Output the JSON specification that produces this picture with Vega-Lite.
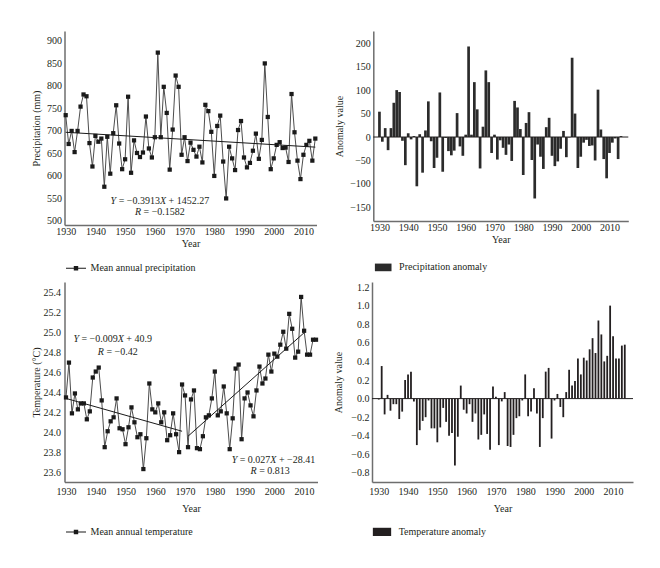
{
  "$schema": "https://vega.github.io/schema/vega-lite/v6.json",
  "padding": {"left": 31.5, "top": 31, "right": 5, "bottom": 5},
  "background": "white",
  "config": {
    "font": "Liberation Serif",
    "view": {"stroke": null},
    "axis": {"domainColor": "#6e6e6e", "domainWidth": 1.5, "ticks": false, "grid": false, "labelFontSize": 10, "labelColor": "#231f20", "titleFontSize": 10, "titleFontWeight": "normal", "titleColor": "#231f20", "labelFlush": false, "labelOverlap": false, "labelBound": false, "tickCount": 30},
    "axisX": {"labelPadding": 1, "titlePadding": 2},
    "axisY": {"labelPadding": 3},
    "legend": {"labelFontSize": 10, "labelColor": "#231f20", "labelFont": "Liberation Serif"},
    "text": {"fontSize": 10, "color": "#231f20", "align": "left", "baseline": "middle"}
  },
  "datasets": {
    "precip": [
      {"year":1930,"precipitation":735,"anomaly":54},{"year":1931,"precipitation":671,"anomaly":-10},{"year":1932,"precipitation":700,"anomaly":19},{"year":1933,"precipitation":653,"anomaly":-28},{"year":1934,"precipitation":700,"anomaly":19},{"year":1935,"precipitation":754,"anomaly":73},{"year":1936,"precipitation":781,"anomaly":100},{"year":1937,"precipitation":777,"anomaly":96},{"year":1938,"precipitation":673,"anomaly":-8},{"year":1939,"precipitation":621,"anomaly":-60},
      {"year":1940,"precipitation":689,"anomaly":8},{"year":1941,"precipitation":676,"anomaly":-5},{"year":1942,"precipitation":683,"anomaly":2},{"year":1943,"precipitation":576,"anomaly":-105},{"year":1944,"precipitation":687,"anomaly":6},{"year":1945,"precipitation":605,"anomaly":-76},{"year":1946,"precipitation":695,"anomaly":14},{"year":1947,"precipitation":757,"anomaly":76},{"year":1948,"precipitation":672,"anomaly":-9},{"year":1949,"precipitation":615,"anomaly":-66},
      {"year":1950,"precipitation":637,"anomaly":-44},{"year":1951,"precipitation":776,"anomaly":95},{"year":1952,"precipitation":607,"anomaly":-74},{"year":1953,"precipitation":679,"anomaly":-2},{"year":1954,"precipitation":651,"anomaly":-30},{"year":1955,"precipitation":642,"anomaly":-39},{"year":1956,"precipitation":652,"anomaly":-29},{"year":1957,"precipitation":732,"anomaly":51},{"year":1958,"precipitation":661,"anomaly":-20},{"year":1959,"precipitation":641,"anomaly":-40},
      {"year":1960,"precipitation":686,"anomaly":5},{"year":1961,"precipitation":874,"anomaly":193},{"year":1962,"precipitation":686,"anomaly":5},{"year":1963,"precipitation":798,"anomaly":117},{"year":1964,"precipitation":740,"anomaly":59},{"year":1965,"precipitation":614,"anomaly":-67},{"year":1966,"precipitation":703,"anomaly":22},{"year":1967,"precipitation":823,"anomaly":142},{"year":1968,"precipitation":798,"anomaly":117},{"year":1969,"precipitation":647,"anomaly":-34},
      {"year":1970,"precipitation":686,"anomaly":5},{"year":1971,"precipitation":633,"anomaly":-48},{"year":1972,"precipitation":674,"anomaly":-7},{"year":1973,"precipitation":658,"anomaly":-23},{"year":1974,"precipitation":643,"anomaly":-38},{"year":1975,"precipitation":665,"anomaly":-16},{"year":1976,"precipitation":630,"anomaly":-51},{"year":1977,"precipitation":758,"anomaly":77},{"year":1978,"precipitation":744,"anomaly":63},{"year":1979,"precipitation":698,"anomaly":17},
      {"year":1980,"precipitation":600,"anomaly":-81},{"year":1981,"precipitation":711,"anomaly":30},{"year":1982,"precipitation":734,"anomaly":53},{"year":1983,"precipitation":632,"anomaly":-49},{"year":1984,"precipitation":550,"anomaly":-131},{"year":1985,"precipitation":665,"anomaly":-16},{"year":1986,"precipitation":639,"anomaly":-42},{"year":1987,"precipitation":613,"anomaly":-68},{"year":1988,"precipitation":702,"anomaly":21},{"year":1989,"precipitation":722,"anomaly":41},
      {"year":1990,"precipitation":641,"anomaly":-40},{"year":1991,"precipitation":619,"anomaly":-62},{"year":1992,"precipitation":629,"anomaly":-52},{"year":1993,"precipitation":656,"anomaly":-25},{"year":1994,"precipitation":694,"anomaly":13},{"year":1995,"precipitation":638,"anomaly":-43},{"year":1996,"precipitation":680,"anomaly":-1},{"year":1997,"precipitation":850,"anomaly":169},{"year":1998,"precipitation":731,"anomaly":50},{"year":1999,"precipitation":615,"anomaly":-66},
      {"year":2000,"precipitation":639,"anomaly":-42},{"year":2001,"precipitation":669,"anomaly":-12},{"year":2002,"precipitation":675,"anomaly":-6},{"year":2003,"precipitation":662,"anomaly":-19},{"year":2004,"precipitation":663,"anomaly":-18},{"year":2005,"precipitation":631,"anomaly":-50},{"year":2006,"precipitation":782,"anomaly":101},{"year":2007,"precipitation":697,"anomaly":16},{"year":2008,"precipitation":634,"anomaly":-47},{"year":2009,"precipitation":593,"anomaly":-88},
      {"year":2010,"precipitation":647,"anomaly":-34},{"year":2011,"precipitation":669,"anomaly":-12},{"year":2012,"precipitation":678,"anomaly":-3},{"year":2013,"precipitation":634,"anomaly":-47},{"year":2014,"precipitation":683,"anomaly":2}
    ],
    "temp": [
      {"year":1930,"temperature":24.35,"anomaly":-0.01},{"year":1931,"temperature":24.70,"anomaly":0.35},{"year":1932,"temperature":24.19,"anomaly":-0.17},{"year":1933,"temperature":24.39,"anomaly":0.04},{"year":1934,"temperature":24.23,"anomaly":-0.13},{"year":1935,"temperature":24.29,"anomaly":-0.06},{"year":1936,"temperature":24.29,"anomaly":-0.06},{"year":1937,"temperature":24.13,"anomaly":-0.22},{"year":1938,"temperature":24.21,"anomaly":-0.14},{"year":1939,"temperature":24.55,"anomaly":0.20},
      {"year":1940,"temperature":24.61,"anomaly":0.26},{"year":1941,"temperature":24.65,"anomaly":0.29},{"year":1942,"temperature":24.32,"anomaly":-0.03},{"year":1943,"temperature":23.85,"anomaly":-0.50},{"year":1944,"temperature":24.01,"anomaly":-0.34},{"year":1945,"temperature":24.11,"anomaly":-0.24},{"year":1946,"temperature":24.15,"anomaly":-0.20},{"year":1947,"temperature":24.34,"anomaly":-0.02},{"year":1948,"temperature":24.04,"anomaly":-0.32},{"year":1949,"temperature":24.03,"anomaly":-0.32},
      {"year":1950,"temperature":23.88,"anomaly":-0.47},{"year":1951,"temperature":24.05,"anomaly":-0.31},{"year":1952,"temperature":24.25,"anomaly":-0.10},{"year":1953,"temperature":24.10,"anomaly":-0.25},{"year":1954,"temperature":23.95,"anomaly":-0.40},{"year":1955,"temperature":23.98,"anomaly":-0.37},{"year":1956,"temperature":23.63,"anomaly":-0.72},{"year":1957,"temperature":23.94,"anomaly":-0.41},{"year":1958,"temperature":24.49,"anomaly":0.14},{"year":1959,"temperature":24.23,"anomaly":-0.12},
      {"year":1960,"temperature":24.20,"anomaly":-0.16},{"year":1961,"temperature":24.29,"anomaly":-0.06},{"year":1962,"temperature":24.10,"anomaly":-0.25},{"year":1963,"temperature":24.20,"anomaly":-0.16},{"year":1964,"temperature":23.92,"anomaly":-0.44},{"year":1965,"temperature":23.97,"anomaly":-0.39},{"year":1966,"temperature":24.19,"anomaly":-0.17},{"year":1967,"temperature":23.98,"anomaly":-0.38},{"year":1968,"temperature":23.80,"anomaly":-0.55},{"year":1969,"temperature":24.48,"anomaly":0.13},
      {"year":1970,"temperature":24.37,"anomaly":0.02},{"year":1971,"temperature":23.85,"anomaly":-0.50},{"year":1972,"temperature":24.33,"anomaly":-0.03},{"year":1973,"temperature":24.42,"anomaly":0.07},{"year":1974,"temperature":23.84,"anomaly":-0.51},{"year":1975,"temperature":23.83,"anomaly":-0.52},{"year":1976,"temperature":23.96,"anomaly":-0.39},{"year":1977,"temperature":24.15,"anomaly":-0.21},{"year":1978,"temperature":24.17,"anomaly":-0.19},{"year":1979,"temperature":24.34,"anomaly":-0.02},
      {"year":1980,"temperature":24.61,"anomaly":0.26},{"year":1981,"temperature":24.17,"anomaly":-0.19},{"year":1982,"temperature":24.21,"anomaly":-0.14},{"year":1983,"temperature":24.46,"anomaly":0.11},{"year":1984,"temperature":24.19,"anomaly":-0.16},{"year":1985,"temperature":23.83,"anomaly":-0.52},{"year":1986,"temperature":24.14,"anomaly":-0.21},{"year":1987,"temperature":24.64,"anomaly":0.29},{"year":1988,"temperature":24.68,"anomaly":0.33},{"year":1989,"temperature":23.93,"anomaly":-0.43},
      {"year":1990,"temperature":24.34,"anomaly":-0.02},{"year":1991,"temperature":24.40,"anomaly":0.05},{"year":1992,"temperature":24.27,"anomaly":-0.09},{"year":1993,"temperature":24.16,"anomaly":-0.20},{"year":1994,"temperature":24.42,"anomaly":0.07},{"year":1995,"temperature":24.66,"anomaly":0.31},{"year":1996,"temperature":24.49,"anomaly":0.14},{"year":1997,"temperature":24.54,"anomaly":0.19},{"year":1998,"temperature":24.78,"anomaly":0.43},{"year":1999,"temperature":24.61,"anomaly":0.26},
      {"year":2000,"temperature":24.79,"anomaly":0.44},{"year":2001,"temperature":24.76,"anomaly":0.41},{"year":2002,"temperature":24.88,"anomaly":0.53},{"year":2003,"temperature":25.01,"anomaly":0.65},{"year":2004,"temperature":24.84,"anomaly":0.49},{"year":2005,"temperature":25.19,"anomaly":0.84},{"year":2006,"temperature":25.04,"anomaly":0.69},{"year":2007,"temperature":24.75,"anomaly":0.40},{"year":2008,"temperature":24.81,"anomaly":0.46},{"year":2009,"temperature":25.36,"anomaly":1.00},
      {"year":2010,"temperature":25.02,"anomaly":0.67},{"year":2011,"temperature":24.78,"anomaly":0.43},{"year":2012,"temperature":24.78,"anomaly":0.43},{"year":2013,"temperature":24.93,"anomaly":0.57},{"year":2014,"temperature":24.93,"anomaly":0.58}
    ],
    "precipTrend": [{"year":1930,"precipitation":697},{"year":2014,"precipitation":664}],
    "tempTrend": [
      {"year":1930,"temperature":24.34,"segment":"1930-1969"},{"year":1969,"temperature":24.01,"segment":"1930-1969"},
      {"year":1971,"temperature":23.96,"segment":"1971-2010"},{"year":2010,"temperature":25.0,"segment":"1971-2010"}
    ]
  },
  "resolve": {"scale": {"color": "independent"}, "legend": {"color": "independent"}},
  "spacing": 8,
  "vconcat": [
    {
      "spacing": 16.8,
      "resolve": {"scale": {"color": "independent"}, "legend": {"color": "independent"}},
      "hconcat": [
        {
          "width": 252, "height": 194,
          "data": {"name": "precip"},
          "layer": [
            {
              "mark": {"type": "line", "color": "#4d4d4d", "strokeWidth": 1},
              "encoding": {
                "x": {"field": "year", "type": "quantitative", "scale": {"domain": [1929.6, 2014.4], "nice": false, "zero": false}, "axis": {"title": "Year", "values": [1930,1940,1950,1960,1970,1980,1990,2000,2010], "format": "d", "labelOverlap": false, "tickCount": 30}},
                "y": {"field": "precipitation", "type": "quantitative", "scale": {"domain": [491, 922], "nice": false, "zero": false}, "axis": {"title": "Precipitation (mm)", "values": [500,550,600,650,700,750,800,850,900], "labelOverlap": false, "tickCount": 30, "minExtent": 21, "maxExtent": 21, "titlePadding": 2}}
              }
            },
            {
              "data": {"name": "precipTrend"},
              "mark": {"type": "line", "color": "#1a1a1a", "strokeWidth": 1},
              "encoding": {
                "x": {"field": "year", "type": "quantitative"},
                "y": {"field": "precipitation", "type": "quantitative"}
              }
            },
            {
              "mark": {"type": "square", "size": 18, "opacity": 1, "filled": true},
              "encoding": {
                "x": {"field": "year", "type": "quantitative"},
                "y": {"field": "precipitation", "type": "quantitative"},
                "color": {"datum": "Mean annual precipitation", "scale": {"range": ["#1a1a1a"]}, "legend": {"title": null, "orient": "none", "legendX": 0.5, "legendY": 226.3, "symbolType": "M-1,-0.05H1V0.05H-1Z M-0.22,-0.22H0.22V0.22H-0.22Z", "symbolSize": 400, "labelOffset": 3.5, "encode": {"symbols": {"update": {"fill": {"value": "#1a1a1a"}, "opacity": {"value": 1}}}}}}
              }
            },
            {"data": {"values": [{}]}, "mark": {"type": "text", "text": "Y", "fontStyle": "italic", "dx": -49.3}, "encoding": {"x": {"datum": 1961.7, "type": "quantitative"}, "y": {"datum": 545, "type": "quantitative"}}},
            {"data": {"values": [{}]}, "mark": {"type": "text", "text": "= −0.3913", "dx": -41.24}, "encoding": {"x": {"datum": 1961.7, "type": "quantitative"}, "y": {"datum": 545, "type": "quantitative"}}},
            {"data": {"values": [{}]}, "mark": {"type": "text", "text": "X", "fontStyle": "italic", "dx": 0.04}, "encoding": {"x": {"datum": 1961.7, "type": "quantitative"}, "y": {"datum": 545, "type": "quantitative"}}},
            {"data": {"values": [{}]}, "mark": {"type": "text", "text": "+ 1452.27", "dx": 8.65}, "encoding": {"x": {"datum": 1961.7, "type": "quantitative"}, "y": {"datum": 545, "type": "quantitative"}}},
            {"data": {"values": [{}]}, "mark": {"type": "text", "text": "R", "fontStyle": "italic", "dx": -24.95}, "encoding": {"x": {"datum": 1961.7, "type": "quantitative"}, "y": {"datum": 519, "type": "quantitative"}}},
            {"data": {"values": [{}]}, "mark": {"type": "text", "text": "= −0.1582", "dx": -16.34}, "encoding": {"x": {"datum": 1961.7, "type": "quantitative"}, "y": {"datum": 519, "type": "quantitative"}}}
          ]
        },
        {
          "width": 255, "height": 190,
          "data": {"name": "precip"},
          "layer": [
            {
              "mark": {"type": "bar", "size": 2.7, "color": "#2b2b2b"},
              "encoding": {
                "x": {"field": "year", "type": "quantitative", "scale": {"domain": [1929.6, 2014.8], "nice": false, "zero": false}, "axis": {"title": "Year", "values": [1930,1940,1950,1960,1970,1980,1990,2000,2010], "format": "d", "labelOverlap": false, "tickCount": 30}},
                "y": {"field": "anomaly", "type": "quantitative", "scale": {"domain": [-179, 226], "nice": false, "zero": false}, "axis": {"title": "Anomaly value", "values": [-150,-100,-50,0,50,100,150,200], "labelOverlap": false, "tickCount": 30, "minExtent": 24, "maxExtent": 24, "titlePadding": 5}},
                "color": {"datum": "Precipitation anomaly", "scale": {"range": ["#2b2b2b"]}, "legend": {"title": null, "orient": "none", "legendX": 0.4, "legendY": 226.9, "symbolType": "M-1,-0.46H1V0.46H-1Z", "symbolSize": 276, "labelOffset": 6.4, "encode": {"symbols": {"update": {"opacity": {"value": 1}}}}}}
              }
            },
            {
              "data": {"values": [{}]},
              "mark": {"type": "rule", "color": "#231f20", "strokeWidth": 1},
              "encoding": {"y": {"datum": 0, "type": "quantitative"}}
            }
          ]
        }
      ]
    },
    {
      "spacing": 14.5,
      "resolve": {"scale": {"color": "independent"}, "legend": {"color": "independent"}},
      "hconcat": [
        {
          "width": 253, "height": 200,
          "data": {"name": "temp"},
          "layer": [
            {
              "mark": {"type": "line", "color": "#4d4d4d", "strokeWidth": 1},
              "encoding": {
                "x": {"field": "year", "type": "quantitative", "scale": {"domain": [1929.5, 2014.5], "nice": false, "zero": false}, "axis": {"title": "Year", "values": [1930,1940,1950,1960,1970,1980,1990,2000,2010], "format": "d", "labelOverlap": false, "tickCount": 30, "labelPadding": 4, "titlePadding": 7}},
                "y": {"field": "temperature", "type": "quantitative", "scale": {"domain": [23.5, 25.51], "nice": false, "zero": false}, "axis": {"title": "Temperature (°C)", "values": [23.6,23.8,24.0,24.2,24.4,24.6,24.8,25.0,25.2,25.4], "format": ".1f", "labelOverlap": false, "tickCount": 30, "minExtent": 21, "maxExtent": 21, "titlePadding": 2, "labelPadding": 4}}
              }
            },
            {
              "data": {"name": "tempTrend"},
              "mark": {"type": "line", "color": "#1a1a1a", "strokeWidth": 1},
              "encoding": {
                "x": {"field": "year", "type": "quantitative"},
                "y": {"field": "temperature", "type": "quantitative"},
                "detail": {"field": "segment"}
              }
            },
            {
              "mark": {"type": "square", "size": 18, "opacity": 1, "filled": true},
              "encoding": {
                "x": {"field": "year", "type": "quantitative"},
                "y": {"field": "temperature", "type": "quantitative"},
                "color": {"datum": "Mean annual temperature", "scale": {"range": ["#1a1a1a"]}, "legend": {"title": null, "orient": "none", "legendX": 0.5, "legendY": 239, "symbolType": "M-1,-0.05H1V0.05H-1Z M-0.22,-0.22H0.22V0.22H-0.22Z", "symbolSize": 400, "labelOffset": 3.5, "encode": {"symbols": {"update": {"fill": {"value": "#1a1a1a"}, "opacity": {"value": 1}}}}}}
              }
            },
            {"data": {"values": [{}]}, "mark": {"type": "text", "text": "Y", "fontStyle": "italic", "dx": -39.3}, "encoding": {"x": {"datum": 1945.7, "type": "quantitative"}, "y": {"datum": 24.94, "type": "quantitative"}}},
            {"data": {"values": [{}]}, "mark": {"type": "text", "text": "= −0.009", "dx": -31.24}, "encoding": {"x": {"datum": 1945.7, "type": "quantitative"}, "y": {"datum": 24.94, "type": "quantitative"}}},
            {"data": {"values": [{}]}, "mark": {"type": "text", "text": "X", "fontStyle": "italic", "dx": 5.04}, "encoding": {"x": {"datum": 1945.7, "type": "quantitative"}, "y": {"datum": 24.94, "type": "quantitative"}}},
            {"data": {"values": [{}]}, "mark": {"type": "text", "text": "+ 40.9", "dx": 13.65}, "encoding": {"x": {"datum": 1945.7, "type": "quantitative"}, "y": {"datum": 24.94, "type": "quantitative"}}},
            {"data": {"values": [{}]}, "mark": {"type": "text", "text": "R", "fontStyle": "italic", "dx": -19.95}, "encoding": {"x": {"datum": 1947.4, "type": "quantitative"}, "y": {"datum": 24.81, "type": "quantitative"}}},
            {"data": {"values": [{}]}, "mark": {"type": "text", "text": "= −0.42", "dx": -11.34}, "encoding": {"x": {"datum": 1947.4, "type": "quantitative"}, "y": {"datum": 24.81, "type": "quantitative"}}},
            {"data": {"values": [{}]}, "mark": {"type": "text", "text": "Y", "fontStyle": "italic", "dx": -41.8}, "encoding": {"x": {"datum": 1999.7, "type": "quantitative"}, "y": {"datum": 23.72, "type": "quantitative"}}},
            {"data": {"values": [{}]}, "mark": {"type": "text", "text": "= 0.027", "dx": -33.74}, "encoding": {"x": {"datum": 1999.7, "type": "quantitative"}, "y": {"datum": 23.72, "type": "quantitative"}}},
            {"data": {"values": [{}]}, "mark": {"type": "text", "text": "X", "fontStyle": "italic", "dx": -3.1}, "encoding": {"x": {"datum": 1999.7, "type": "quantitative"}, "y": {"datum": 23.72, "type": "quantitative"}}},
            {"data": {"values": [{}]}, "mark": {"type": "text", "text": "+ −28.41", "dx": 5.51}, "encoding": {"x": {"datum": 1999.7, "type": "quantitative"}, "y": {"datum": 23.72, "type": "quantitative"}}},
            {"data": {"values": [{}]}, "mark": {"type": "text", "text": "R", "fontStyle": "italic", "dx": -19.6}, "encoding": {"x": {"datum": 1998.6, "type": "quantitative"}, "y": {"datum": 23.61, "type": "quantitative"}}},
            {"data": {"values": [{}]}, "mark": {"type": "text", "text": "= 0.813", "dx": -10.99}, "encoding": {"x": {"datum": 1998.6, "type": "quantitative"}, "y": {"datum": 23.61, "type": "quantitative"}}}
          ]
        },
        {
          "width": 261, "height": 200,
          "data": {"name": "temp"},
          "layer": [
            {
              "mark": {"type": "bar", "size": 1.8, "color": "#231f20"},
              "encoding": {
                "x": {"field": "year", "type": "quantitative", "scale": {"domain": [1929.4, 2015.1], "nice": false, "zero": false}, "axis": {"title": "Year", "values": [1930,1940,1950,1960,1970,1980,1990,2000,2010], "format": "d", "labelOverlap": false, "tickCount": 30, "labelPadding": 4, "titlePadding": 7}},
                "y": {"field": "anomaly", "type": "quantitative", "scale": {"domain": [-0.897, 1.254], "nice": false, "zero": false}, "axis": {"title": "Anomaly value", "values": [-0.8,-0.6,-0.4,-0.2,0,0.2,0.4,0.6,0.8,1.0,1.2], "format": ".1f", "labelOverlap": false, "tickCount": 30, "minExtent": 24, "maxExtent": 24, "titlePadding": 5}},
                "color": {"datum": "Temperature anomaly", "scale": {"range": ["#231f20"]}, "legend": {"title": null, "orient": "none", "legendX": 0, "legendY": 239.9, "symbolType": "M-1,-0.45H1V0.45H-1Z", "symbolSize": 335, "labelOffset": 6.7, "encode": {"symbols": {"update": {"opacity": {"value": 1}}}}}}
              }
            },
            {
              "data": {"values": [{}]},
              "mark": {"type": "rule", "color": "#231f20", "strokeWidth": 1},
              "encoding": {"y": {"datum": 0, "type": "quantitative"}}
            }
          ]
        }
      ]
    }
  ]
}
